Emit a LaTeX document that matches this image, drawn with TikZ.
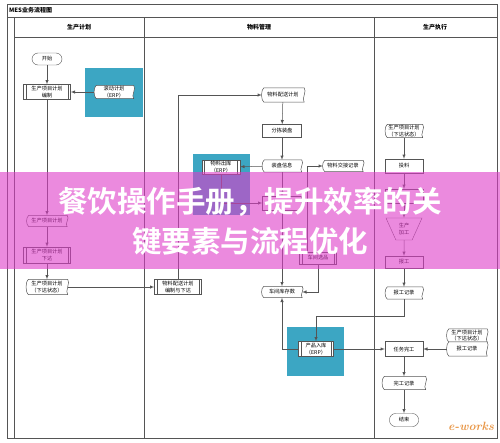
\documentclass[tikz,border=0pt]{standalone}
\usepackage{fontspec}
\newfontfamily\cjk{Noto Sans CJK SC}
\newfontfamily\cjkbf{Noto Sans CJK SC Bold}
\usetikzlibrary{arrows,shapes.geometric,backgrounds,positioning}
\definecolor{linegray}{RGB}{85,85,85}
\definecolor{erpblue}{RGB}{60,166,195}
\definecolor{bannerpink}{RGB}{222,60,200}
\definecolor{markorange}{RGB}{232,150,70}

\begin{document}
\begin{tikzpicture}
%MES flow chart with banner
	[
	 x=1pt, y=-1pt, >=latex,
	 %Styles
	 every node/.style={font=\cjk\fontsize{5.2pt}{6.2pt}\selectfont, inner sep=0pt, align=center},
	 frame_line/.style={draw=linegray, line width=0.6pt},
	 head_label/.style={font=\cjk\bfseries\fontsize{6pt}{7pt}\selectfont},
	 term_node/.style={rectangle, rounded corners=6pt, draw=linegray, fill=white, minimum width=30pt, minimum height=12pt},
	 proc_node/.style={rectangle, draw=linegray, fill=white, minimum width=38pt, minimum height=13pt},
	 predef_node/.style={proc_node, minimum width=47pt, minimum height=15pt,
	   path picture={\draw[linegray] ([xshift=2.5pt]path picture bounding box.north west) -- ([xshift=2.5pt]path picture bounding box.south west)
	     ([xshift=-2.5pt]path picture bounding box.north east) -- ([xshift=-2.5pt]path picture bounding box.south east);}},
	 doc_node/.style={rectangle, minimum width=40pt, minimum height=12pt},
	 trap_node/.style={trapezium, trapezium stretches=true, shape border rotate=180, draw=linegray, fill=white, minimum width=36pt, minimum height=22pt},
	 erp_box/.style={fill=erpblue},
	 flow/.style={->, draw=linegray, line width=0.5pt},
	 banner_text/.style={font=\cjkbf\fontsize{29.5pt}{30pt}\selectfont, text=white}
	]

	%Frame and lanes
	\draw[frame_line] (7,4) rectangle (497,438);
	\draw[frame_line] (7,17) -- (497,17);
	\draw[frame_line] (14,17) -- (14,438);
	\draw[frame_line] (14,37) -- (497,37);
	\draw[frame_line] (144,17) -- (144,438);
	\draw[frame_line] (374,17) -- (374,438);
	\node (title)[head_label, anchor=west] at (9,10.5) {MES业务流程图};
	\node (lane1)[head_label] at (79,27) {生产计划};
	\node (lane2)[head_label] at (259,27) {物料管理};
	\node (lane3)[head_label] at (435,27) {生产执行};

	%Node placement
	%Lane 1
	\node (start)[term_node] at (47,59) {开始};
	\node (plan)[predef_node] at (47,92) {生产项目计划\\编制};
	\node (erpplan)[doc_node, minimum width=39pt, minimum height=13pt] at (114,92) {滚动计划\\（ERP）};
	\node (dplan)[doc_node, minimum height=11pt] at (47,221) {生产项目计划};
	\node (issue)[predef_node, minimum height=16pt] at (47,255) {生产项目计划\\下达};
	\node (issued)[doc_node, minimum width=41pt, minimum height=15pt] at (47,287) {生产项目计划\\（下达状态）};
	%Lane 2
	\node (mplanmk)[predef_node] at (178,287) {物料配送计划\\编制与下达};
	\node (mplan)[doc_node, minimum width=42pt, minimum height=14pt] at (283,95) {物料配送计划};
	\node (sort)[proc_node, minimum width=39pt] at (282,131) {分拣装盘};
	\node (trayinfo)[doc_node, minimum width=39pt] at (282,166) {装盘信息};
	\node (out)[predef_node, minimum width=38pt, minimum height=14pt] at (221,167) {物料出库\\（ERP）};
	\node (handover)[doc_node, minimum height=11pt] at (343,166) {物料交接记录};
	\node (recv)[proc_node, minimum width=39pt, minimum height=14pt] at (282,203) {};
	\node (pick)[predef_node, minimum width=37pt, minimum height=12pt] at (318,258) {车间选品};
	\node (stock)[doc_node, minimum height=11pt] at (282,292) {车间库存数};
	\node (instock)[predef_node, minimum width=35pt, minimum height=15pt] at (316,349) {产品入库\\（ERP）};
	%Lane 3
	\node (lplan)[doc_node, minimum width=37pt, minimum height=13pt] at (404,131) {生产项目计划\\（下达状态）};
	\node (feed)[proc_node, minimum height=14pt] at (404,166) {投料};
	\node (prep)[proc_node, minimum height=14pt] at (404,196) {};
	\node (make)[trap_node] at (404,229) {生产\\加工};
	\node (report)[proc_node, minimum height=12pt] at (404,262) {报工};
	\node (reportrec)[doc_node, minimum width=37pt] at (404,293) {报工记录};
	\node (done)[proc_node, minimum height=15pt] at (404,349) {任务完工};
	\node (srcA)[doc_node, minimum height=13pt] at (467,335.5) {生产项目计划\\（下达状态）};
	\node (srcB)[doc_node, minimum height=14pt] at (467,349) {报工记录};
	\node (donerec)[doc_node, minimum width=43pt, minimum height=13pt] at (404,383) {完工记录};
	\node (finish)[term_node, minimum width=29pt, minimum height=13pt] at (404,420) {结束};
	\node (mark)[font=\bfseries\itshape\fontsize{12pt}{12pt}\selectfont, text=markorange] at (471,426) {e-works};

	%ERP boxes and document outlines
	\begin{scope}[on background layer]
	  \fill[erp_box] (85,68) rectangle (143,117);
	  \fill[erp_box] (193,154) rectangle (250,215);
	  \fill[erp_box] (287,327) rectangle (344,376);
	  \foreach \n in {erpplan,dplan,issued,mplan,trayinfo,handover,stock,lplan,reportrec,srcA,srcB,donerec}
	    \filldraw[draw=linegray, fill=white, line width=0.5pt]
	      ([xshift=2pt]\n.north west) -- (\n.north east)
	      .. controls +(3pt,-3pt) and +(-3pt,3pt) .. (\n.south east)
	      -- ([xshift=2pt]\n.south west)
	      .. controls +(-3pt,2pt) and +(-3pt,-2pt) .. ([xshift=2pt]\n.north west);
	\end{scope}

	%Edges
	\path
	    (start) edge [flow] (plan)
	    (erpplan) edge [flow] (plan)
	    (plan) edge [flow] (dplan)
	    (dplan) edge [flow] (issue)
	    (issue) edge [flow] (issued)
	    (issued) edge [flow] (mplanmk)
	    (mplan) edge [flow] (sort)
	    (sort) edge [flow] (trayinfo)
	    (trayinfo) edge [flow] (out)
	    (trayinfo) edge [flow] (recv)
	    (recv) edge [flow] (stock)
	    (instock) edge [flow] (done)
	    (srcB) edge [flow] (done)
	    (lplan) edge [flow] (feed)
	    (feed) edge [flow] (prep)
	    (prep) edge [flow] (make)
	    (make) edge [flow] (report)
	    (report) edge [flow] (reportrec)
	    (done) edge [flow] (donerec)
	    (donerec) edge [flow] (finish);
	\draw[flow] (mplanmk.north) |- (mplan.west);
	\draw[flow] (out.south) |- (recv.west);
	\draw[flow] ([xshift=-11pt]pick.north) |- (handover.west);
	\draw[flow] (pick.south) |- (stock.east);
	\draw[flow] (instock.west) -| (stock.south);
	\draw[flow] (reportrec.south) -- ++(0,17) -| (instock.north);

	%Banner
	\fill[bannerpink, opacity=0.6] (0,172) rectangle (500,269);
	\node (head1)[banner_text] at (250,202) {餐饮操作手册，提升效率的关};
	\node (head2)[banner_text] at (250,241) {键要素与流程优化};

	\useasboundingbox (0,0) rectangle (500,442);
\end{tikzpicture}
\end{document}
